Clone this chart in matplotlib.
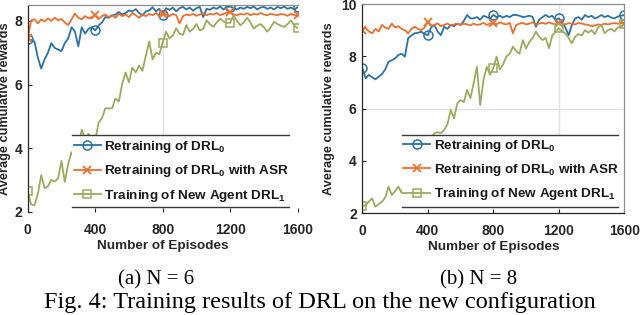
import matplotlib
matplotlib.use("Agg")
import matplotlib.pyplot as plt
from matplotlib.patches import Rectangle
from matplotlib.lines import Line2D
import numpy as np

plt.rcParams['font.family'] = ['Liberation Sans', 'DejaVu Sans']
plt.rcParams['font.weight'] = 'bold'
plt.rcParams['mathtext.fontset'] = 'custom'
plt.rcParams['mathtext.rm'] = 'Liberation Sans:bold'
plt.rcParams['mathtext.bf'] = 'Liberation Sans:bold'
plt.rcParams['mathtext.it'] = 'Liberation Sans:bold'
plt.rcParams['mathtext.default'] = 'bf'

# ---------------- data ----------------
episodes = list(range(0, 1601, 20))

left_retrain = [7.43, 7.40, 7.35, 6.85, 6.50, 6.79, 7.00, 7.30, 7.15, 7.10,
                7.05, 7.30, 7.45, 7.80, 7.66, 7.20, 7.80, 7.60, 7.75, 7.80,
                7.70, 7.85, 7.95, 8.12, 8.10, 8.17, 8.20, 8.28, 8.20, 8.25,
                8.33, 8.30, 8.37, 8.25, 8.17, 8.30, 8.33, 8.43, 8.30, 8.38,
                8.20, 8.40, 8.35, 8.42, 8.30, 8.40, 8.44, 8.36, 8.42, 8.32,
                8.40, 8.44, 8.12, 8.38, 8.35, 8.42, 8.38, 8.45, 8.36, 8.44,
                8.45, 8.40, 8.36, 8.42, 8.38, 8.44, 8.40, 8.45, 8.36, 8.42,
                8.44, 8.38, 8.42, 8.36, 8.44, 8.40, 8.45, 8.38, 8.42, 8.36,
                8.43]
left_asr = [7.45, 8.02, 8.05, 7.92, 8.05, 7.98, 8.08, 8.00, 8.10, 8.02,
            8.06, 7.95, 7.87, 8.05, 8.23, 8.10, 8.05, 8.15, 8.08, 8.12,
            8.18, 8.05, 8.15, 8.20, 8.12, 8.18, 8.10, 8.22, 8.15, 8.20,
            8.12, 8.25, 8.18, 8.10, 8.20, 8.15, 8.22, 8.18, 8.25, 8.15,
            8.23, 8.20, 8.15, 8.22, 8.18, 7.92, 8.15, 8.20, 8.18, 8.22,
            8.16, 8.20, 8.24, 8.18, 8.22, 8.20, 8.25, 8.18, 8.22, 8.26,
            8.28, 8.20, 8.18, 8.22, 8.20, 8.24, 8.18, 8.22, 8.20, 8.25,
            8.20, 8.18, 8.22, 8.20, 8.18, 8.22, 8.20, 8.16, 8.22, 8.18,
            8.17]
left_new = [2.64, 2.23, 2.20, 2.55, 3.15, 2.74, 2.80, 3.00, 2.95, 3.05,
            3.60, 2.94, 3.50, 3.87, 3.60, 4.00, 4.58, 4.30, 4.45, 4.30,
            4.25, 4.80, 4.94, 5.25, 5.25, 5.25, 5.56, 5.46, 6.02, 6.38,
            6.07, 6.53, 6.38, 6.60, 6.43, 6.90, 7.35, 6.79, 7.00, 6.95,
            7.32, 7.66, 7.45, 7.54, 7.77, 7.60, 7.56, 7.87, 7.66, 7.75,
            7.90, 7.70, 7.75, 8.02, 7.90, 7.81, 7.95, 8.07, 7.98, 7.94,
            7.94, 8.17, 8.00, 7.86, 7.95, 8.10, 7.95, 7.76, 7.85, 7.90,
            7.80, 7.66, 7.80, 7.97, 7.90, 7.85, 7.81, 7.90, 8.02, 7.85,
            7.77]

right_retrain = [7.54, 7.16, 7.29, 7.20, 7.12, 7.22, 7.32, 7.50, 7.79, 7.85,
                 7.92, 8.05, 8.10, 7.99, 8.69, 8.80, 8.88, 8.90, 8.94, 8.85,
                 8.81, 9.10, 9.20, 8.95, 8.81, 9.13, 9.05, 9.20, 9.15, 9.25,
                 9.20, 9.35, 9.58, 9.45, 9.45, 9.50, 9.40, 9.55, 9.50, 9.45,
                 9.58, 9.50, 9.55, 9.48, 9.55, 9.50, 9.58, 9.58, 9.55, 9.50,
                 9.52, 9.55, 9.51, 9.13, 9.40, 9.50, 9.58, 9.50, 9.55, 9.40,
                 9.45, 9.30, 9.10, 8.81, 9.20, 9.45, 9.50, 9.40, 9.58, 9.50,
                 9.55, 9.45, 9.50, 9.58, 9.50, 9.55, 9.48, 9.45, 9.52, 9.55,
                 9.58]
right_asr = [9.00, 9.10, 8.95, 8.88, 9.05, 8.95, 9.20, 9.10, 9.05, 9.25,
             9.10, 9.15, 9.05, 9.00, 8.88, 9.05, 9.13, 9.05, 9.00, 9.10,
             9.32, 9.15, 9.20, 9.26, 9.15, 9.20, 9.25, 9.18, 9.22, 9.25,
             9.20, 9.25, 9.22, 9.18, 9.25, 9.20, 9.22, 9.28, 9.20, 9.25,
             9.27, 9.22, 9.30, 9.25, 9.22, 9.28, 8.88, 9.20, 9.25, 9.28,
             9.22, 9.25, 9.30, 9.22, 9.25, 9.28, 9.24, 9.30, 9.25, 9.22,
             9.27, 9.25, 9.22, 9.27, 9.25, 9.22, 9.28, 9.25, 9.22, 9.20,
             9.15, 9.18, 9.22, 9.20, 9.25, 9.22, 9.25, 9.27, 9.25, 9.27,
             9.25]
right_new = [2.28, 2.30, 2.45, 2.57, 2.25, 2.35, 2.44, 2.60, 3.02, 2.70,
             2.85, 3.02, 2.78, 3.20, 3.60, 4.00, 4.40, 4.60, 4.75, 4.80,
             4.80, 4.90, 5.06, 5.10, 5.06, 5.19, 5.40, 5.95, 5.63, 6.20,
             6.33, 6.25, 6.71, 6.40, 6.97, 7.60, 6.14, 7.10, 7.60, 7.30,
             7.54, 7.99, 7.50, 7.70, 7.99, 8.10, 8.37, 8.20, 8.10, 8.62,
             8.30, 8.55, 8.70, 8.94, 8.75, 8.62, 8.70, 8.31, 8.80, 8.95,
             9.07, 8.95, 8.88, 8.70, 8.50, 8.75, 8.85, 8.80, 9.00, 8.90,
             9.00, 8.85, 9.10, 9.20, 8.88, 9.00, 9.05, 8.95, 9.10, 9.15,
             9.23]

labels = [r"Retraining of DRL$_0$", r"Retraining of DRL$_0$ with ASR",
          r"Training of New Agent DRL$_1$"]
x_ticks = [0, 400, 800, 1200, 1600]
left_yticks = [2, 4, 6, 8]
right_yticks = [2, 4, 6, 8, 10]
captions = ["(a) N = 6", "(b) N = 8"]
fig_caption = "Fig. 4: Training results of DRL on the new configuration"

# ---------------- style ----------------
c_blue = '#2b72a6'
c_orange = '#ec6f2d'
c_green = '#9bab5e'
styles = [dict(color=c_blue, marker='o', ms=6.5, mfc='none', mew=1.1),
          dict(color=c_orange, marker='x', ms=5.5, mew=1.3),
          dict(color=c_green, marker='s', ms=5.5, mfc='none', mew=1.1)]

fig = plt.figure(figsize=(6.4, 3.15), dpi=100)
axL = fig.add_axes([27.7/640, (315-211.7)/315, 270/640, 206.7/315])
axR = fig.add_axes([362.3/640, (315-213.3)/315, 262/640, 209.3/315])


def draw(ax, series, ylim, yticks, vlines, hlines, legbox, show_bottom, show_right):
    for v in vlines:
        ax.axvline(v, color='#e3e3e3', lw=1.0, zorder=1)
    for h in hlines:
        ax.axhline(h, color='#e3e3e3', lw=1.0, zorder=1)
    for ys, st in zip(series, styles):
        ax.plot(episodes, ys, lw=1.3, markevery=20, zorder=2, **st)
    ax.set_xlim(0, 1600)
    ax.set_ylim(*ylim)
    ax.set_xticks(x_ticks)
    ax.set_yticks(yticks)
    ax.tick_params(direction='in', length=3, width=0.8, labelsize=10,
                   colors='#262626', pad=4)
    ax.tick_params(axis='x', pad=8)
    for lab in ax.get_xticklabels() + ax.get_yticklabels():
        lab.set_fontweight('bold')
    ax.spines['left'].set_color('#262626')
    ax.spines['top'].set_color('#8c8c8c')
    ax.spines['bottom'].set_color('#262626')
    ax.spines['right'].set_color('#8c8c8c')
    ax.spines['bottom'].set_visible(show_bottom)
    ax.spines['right'].set_visible(show_right)
    for s in ax.spines.values():
        s.set_linewidth(0.9)
    ax.set_xlabel("Number of Episodes", fontsize=9.7, fontweight='bold',
                  color='#262626')
    ax.set_ylabel("Average cumulative rewards", fontsize=9.2, fontweight='bold',
                  color='#262626')
    x0, y0, w, h, hx, hy = legbox
    ax.add_patch(Rectangle((x0, y0), w, h, transform=ax.transAxes,
                           facecolor='white', edgecolor='none', zorder=3))
    for yy in (y0, y0 + h):
        ax.add_line(Line2D([x0, x0 + w], [yy, yy], transform=ax.transAxes,
                           color='#3a3a3a', lw=1.0, zorder=4))
    handles = [Line2D([], [], lw=1.3, **st) for st in styles]
    leg = ax.legend(handles, labels, loc='upper left', bbox_to_anchor=(hx, hy),
                    frameon=False, fontsize=9.7, handlelength=2.0,
                    handletextpad=0.25, labelspacing=0.62, borderpad=0,
                    borderaxespad=0)
    leg.set_zorder(5)
    for t in leg.get_texts():
        t.set_fontweight('bold')
        t.set_color('#1a1a1a')


draw(axL, [left_retrain, left_asr, left_new], (2, 8.5), left_yticks,
     [800], [], (0.164, 0.023, 0.804, 0.348, 0.171, 0.352), False, False)
draw(axR, [right_retrain, right_asr, right_new], (2, 10), right_yticks,
     [1200], [6], (0.150, 0.030, 0.826, 0.344, 0.157, 0.362), True, True)

axL.yaxis.set_label_coords(-0.062, 0.5)
axR.yaxis.set_label_coords(-0.105, 0.5)
axL.xaxis.set_label_coords(0.5, -0.135)
axR.xaxis.set_label_coords(0.5, -0.13)

fig.text(156/640, 1 - 284/315, captions[0], ha='center', va='baseline',
         family='Liberation Serif', fontweight='normal', fontsize=15)
fig.text(479/640, 1 - 284/315, captions[1], ha='center', va='baseline',
         family='Liberation Serif', fontweight='normal', fontsize=15)
fig.text(0.5, 1 - 308/315, fig_caption, ha='center', va='baseline',
         family='Liberation Serif', fontweight='normal', fontsize=17.5)

fig.savefig("out.png", dpi=100)
